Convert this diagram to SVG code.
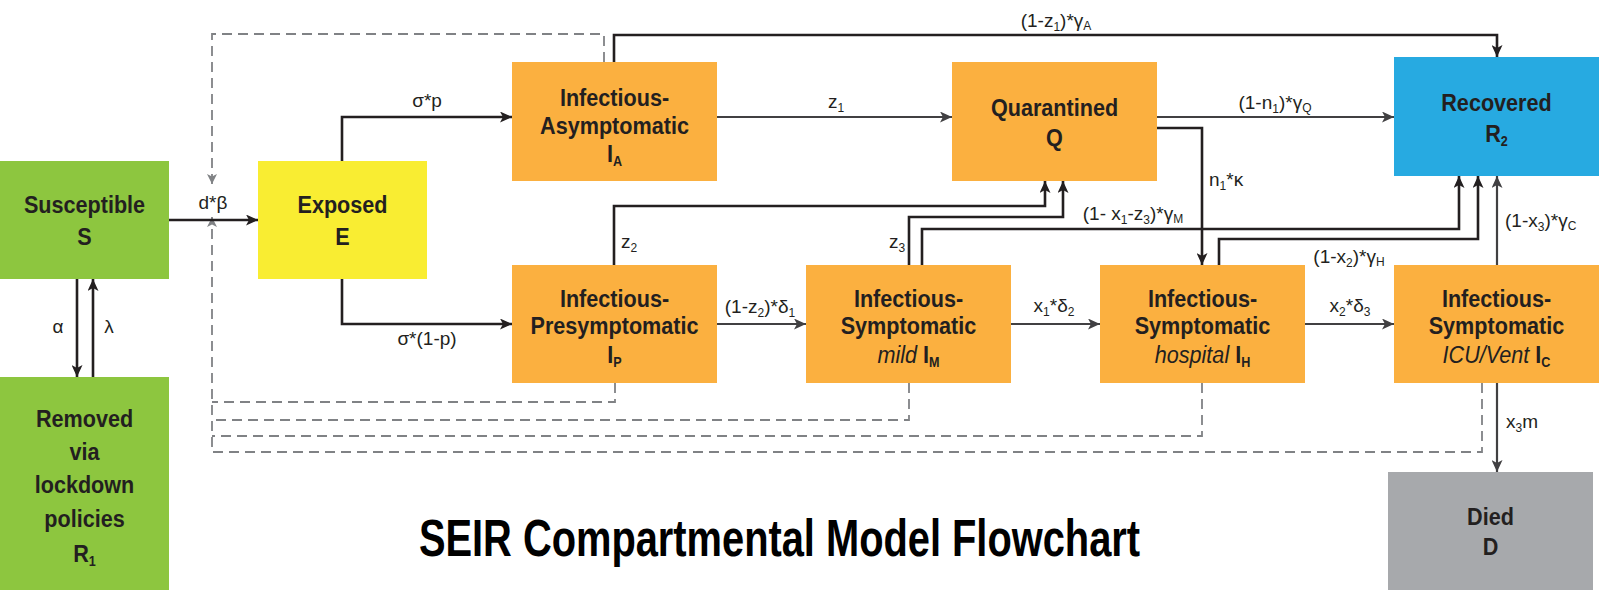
<svg xmlns="http://www.w3.org/2000/svg" width="1599" height="592" viewBox="0 0 1599 592">
<defs>
<style>
.bl{font-family:"Liberation Sans",Arial,sans-serif;font-weight:bold;font-size:24px;fill:#231F20;text-anchor:middle}
.sub{font-size:14px}
.it{font-style:italic;font-weight:normal}
.lbl{font-family:"Liberation Sans",Arial,sans-serif;font-size:19px;fill:#231F20}
.mid{text-anchor:middle}
.ls{font-size:12px}
.c{fill:none;stroke:#231F20;stroke-width:2.6;marker-end:url(#ah)}
.c2{fill:none;stroke:#414042;stroke-width:2.2;marker-end:url(#ah2)}
.d{fill:none;stroke:#808285;stroke-width:1.8;stroke-dasharray:10 6}
.title{font-family:"Liberation Sans",Arial,sans-serif;font-weight:bold;font-size:52px;fill:#000;text-anchor:middle}
</style>
<marker id="ah" markerUnits="userSpaceOnUse" markerWidth="13" markerHeight="11" refX="12" refY="5.5" orient="auto">
<path d="M0,0 L12,5.5 L0,11 L3,5.5 Z" fill="#231F20"/>
</marker>
<marker id="ah2" markerUnits="userSpaceOnUse" markerWidth="13" markerHeight="11" refX="12" refY="5.5" orient="auto">
<path d="M0,0 L12,5.5 L0,11 L3,5.5 Z" fill="#414042"/>
</marker>
<marker id="ag" markerUnits="userSpaceOnUse" markerWidth="11" markerHeight="10" refX="10" refY="5" orient="auto">
<path d="M0,0 L10,5 L0,10 L2.5,5 Z" fill="#808285"/>
</marker>
</defs>
<rect width="1599" height="592" fill="#fff"/>

<g id="connectors">
<!-- dashed feedback -->
<path class="d" d="M604,62 V34 H212 V184" marker-end="url(#ag)"/>
<path class="d" d="M615,383 V402 H212"/>
<path class="d" d="M909,383 V420 H212"/>
<path class="d" d="M1202,383 V436 H212"/>
<path class="d" d="M1482,383 V452 H212 V217" marker-end="url(#ag)"/>
<!-- solid flows -->
<path class="c" d="M169,220 H258"/>
<path class="c" d="M342,161 V117 H512"/>
<path class="c" d="M342,279 V324 H512"/>
<path class="c" d="M77,279 V377"/>
<path class="c" d="M93,377 V279"/>
<path class="c2" d="M717,117 H952"/>
<path class="c2" d="M1157,117 H1394"/>
<path class="c" d="M614,62 V35 H1497 V57"/>
<path class="c" d="M1157,128 H1202 V265"/>
<path class="c" d="M614,265 V206 H1045 V181"/>
<path class="c" d="M909,265 V217 H1063 V181"/>
<path class="c" d="M922,265 V229 H1459 V176"/>
<path class="c" d="M1219,265 V239 H1478 V176"/>
<path class="c2" d="M1497,265 V176"/>
<path class="c2" d="M717,324 H806"/>
<path class="c2" d="M1011,324 H1100"/>
<path class="c2" d="M1305,324 H1394"/>
<path class="c2" d="M1497,383 V472"/>
<!-- labels -->
<text class="lbl mid" x="213" y="209">d*β</text>
<text class="lbl mid" x="427" y="107">σ*p</text>
<text class="lbl mid" x="427" y="345">σ*(1-p)</text>
<text class="lbl mid" x="58" y="333">α</text>
<text class="lbl mid" x="109" y="333">λ</text>
<text class="lbl" x="828" y="108">z<tspan class="ls" dy="4">1</tspan></text>
<text class="lbl mid" x="1056" y="27">(1-z<tspan class="ls" dy="4">1</tspan><tspan dy="-4">)*γ</tspan><tspan class="ls" dy="3">A</tspan></text>
<text class="lbl mid" x="1275" y="109">(1-n<tspan class="ls" dy="4">1</tspan><tspan dy="-4">)*γ</tspan><tspan class="ls" dy="3">Q</tspan></text>
<text class="lbl" x="1209" y="186">n<tspan class="ls" dy="4">1</tspan><tspan dy="-4">*κ</tspan></text>
<text class="lbl" x="621" y="248">z<tspan class="ls" dy="4">2</tspan></text>
<text class="lbl" x="889" y="248">z<tspan class="ls" dy="4">3</tspan></text>
<text class="lbl mid" x="1133" y="220">(1- x<tspan class="ls" dy="4">1</tspan><tspan dy="-4">-z</tspan><tspan class="ls" dy="4">3</tspan><tspan dy="-4">)*γ</tspan><tspan class="ls" dy="3">M</tspan></text>
<text class="lbl mid" x="1349" y="263">(1-x<tspan class="ls" dy="4">2</tspan><tspan dy="-4">)*γ</tspan><tspan class="ls" dy="3">H</tspan></text>
<text class="lbl" x="1505" y="227">(1-x<tspan class="ls" dy="4">3</tspan><tspan dy="-4">)*γ</tspan><tspan class="ls" dy="3">C</tspan></text>
<text class="lbl mid" x="760" y="313">(1-z<tspan class="ls" dy="4">2</tspan><tspan dy="-4">)*δ</tspan><tspan class="ls" dy="4">1</tspan></text>
<text class="lbl mid" x="1054" y="312">x<tspan class="ls" dy="4">1</tspan><tspan dy="-4">*δ</tspan><tspan class="ls" dy="4">2</tspan></text>
<text class="lbl mid" x="1350" y="312">x<tspan class="ls" dy="4">2</tspan><tspan dy="-4">*δ</tspan><tspan class="ls" dy="4">3</tspan></text>
<text class="lbl" x="1506" y="428">x<tspan class="ls" dy="4">3</tspan><tspan dy="-4">m</tspan></text>
</g>

<g id="node-S">
<rect x="0" y="161" width="169" height="118" fill="#8DC63F"/>
<g transform="translate(84.5 0) scale(0.9 1)" class="bl">
<text x="0" y="213">Susceptible</text>
<text x="0" y="245">S</text>
</g>
</g>

<g id="node-R1">
<rect x="0" y="377" width="169" height="213" fill="#8DC63F"/>
<g transform="translate(84.5 0) scale(0.9 1)" class="bl">
<text x="0" y="427">Removed</text>
<text x="0" y="460">via</text>
<text x="0" y="493">lockdown</text>
<text x="0" y="527">policies</text>
<text x="0" y="562">R<tspan class="sub" dy="4">1</tspan></text>
</g>
</g>

<g id="node-E">
<rect x="258" y="161" width="169" height="118" fill="#F9ED32"/>
<g transform="translate(342.5 0) scale(0.9 1)" class="bl">
<text x="0" y="213">Exposed</text>
<text x="0" y="245">E</text>
</g>
</g>

<g id="node-IA">
<rect x="512" y="62" width="205" height="119" fill="#FBB040"/>
<g transform="translate(614.5 0) scale(0.9 1)" class="bl">
<text x="0" y="106">Infectious-</text>
<text x="0" y="134">Asymptomatic</text>
<text x="0" y="162">I<tspan class="sub" dy="4">A</tspan></text>
</g>
</g>

<g id="node-Q">
<rect x="952" y="62" width="205" height="119" fill="#FBB040"/>
<g transform="translate(1054.5 0) scale(0.9 1)" class="bl">
<text x="0" y="116">Quarantined</text>
<text x="0" y="146">Q</text>
</g>
</g>

<g id="node-R2">
<rect x="1394" y="57" width="205" height="119" fill="#27AAE1"/>
<g transform="translate(1496.5 0) scale(0.9 1)" class="bl">
<text x="0" y="111">Recovered</text>
<text x="0" y="142">R<tspan class="sub" dy="4">2</tspan></text>
</g>
</g>

<g id="node-IP">
<rect x="512" y="265" width="205" height="118" fill="#FBB040"/>
<g transform="translate(614.5 0) scale(0.9 1)" class="bl">
<text x="0" y="307">Infectious-</text>
<text x="0" y="334">Presymptomatic</text>
<text x="0" y="363">I<tspan class="sub" dy="4">P</tspan></text>
</g>
</g>

<g id="node-IM">
<rect x="806" y="265" width="205" height="118" fill="#FBB040"/>
<g transform="translate(908.5 0) scale(0.9 1)" class="bl">
<text x="0" y="307">Infectious-</text>
<text x="0" y="334">Symptomatic</text>
<text x="0" y="363"><tspan class="it">mild</tspan> I<tspan class="sub" dy="4">M</tspan></text>
</g>
</g>

<g id="node-IH">
<rect x="1100" y="265" width="205" height="118" fill="#FBB040"/>
<g transform="translate(1202.5 0) scale(0.9 1)" class="bl">
<text x="0" y="307">Infectious-</text>
<text x="0" y="334">Symptomatic</text>
<text x="0" y="363"><tspan class="it">hospital</tspan> I<tspan class="sub" dy="4">H</tspan></text>
</g>
</g>

<g id="node-IC">
<rect x="1394" y="265" width="205" height="118" fill="#FBB040"/>
<g transform="translate(1496.5 0) scale(0.9 1)" class="bl">
<text x="0" y="307">Infectious-</text>
<text x="0" y="334">Symptomatic</text>
<text x="0" y="363"><tspan class="it">ICU/Vent</tspan> I<tspan class="sub" dy="4">C</tspan></text>
</g>
</g>

<g id="node-D">
<rect x="1388" y="472" width="205" height="118" fill="#A7A9AC"/>
<g transform="translate(1490.5 0) scale(0.9 1)" class="bl">
<text x="0" y="525">Died</text>
<text x="0" y="555">D</text>
</g>
</g>

<g id="title">
<g transform="translate(779.5 0) scale(0.766 1)">
<text class="title" x="0" y="556">SEIR Compartmental Model Flowchart</text>
</g>
</g>
</svg>
